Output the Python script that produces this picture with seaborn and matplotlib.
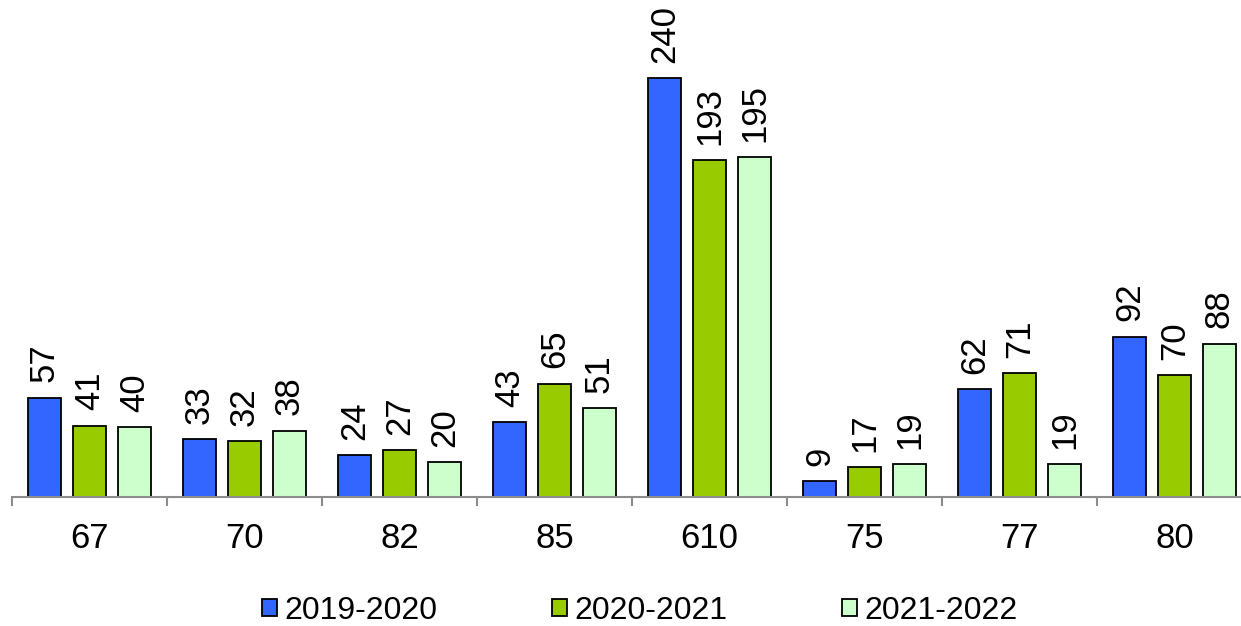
import pandas as pd
import numpy as np
import matplotlib.pyplot as plt
import seaborn as sns

# chart data
categories = ["67", "70", "82", "85", "610", "75", "77", "80"]
seasons = ["2019-2020", "2020-2021", "2021-2022"]
v_2019 = [57, 33, 24, 43, 240, 9, 62, 92]
v_2020 = [41, 32, 27, 65, 193, 17, 71, 70]
v_2021 = [40, 38, 20, 51, 195, 19, 19, 88]
colors = ["#3366FF", "#99CC00", "#CCFFCC"]

df = pd.DataFrame({
    "cat": categories * 3,
    "season": [seasons[0]] * 8 + [seasons[1]] * 8 + [seasons[2]] * 8,
    "value": v_2019 + v_2020 + v_2021,
})

sns.set_style("white")
plt.rcParams["font.family"] = ["Liberation Sans", "DejaVu Sans"]
plt.rcParams["text.color"] = "black"
plt.rcParams["xtick.color"] = "black"

fig = plt.figure(figsize=(12.41, 6.26), dpi=100)
ax = fig.add_axes([12 / 1241, 1 - 497 / 626, 1240 / 1241, 497 / 626])

sns.barplot(data=df, x="cat", y="value", hue="season", order=categories,
            hue_order=seasons, palette=colors, width=0.87, gap=0.27,
            edgecolor="black", linewidth=1.3, saturation=1, ax=ax)

for cont in ax.containers:
    ax.bar_label(cont, rotation=90, padding=11, fontsize=25, color="black")

ax.set_xlim(-0.5, 7.5)
ax.set_ylim(0, 285)
ax.set_xlabel("")
ax.set_ylabel("")
ax.set_yticks([])
for s in ["top", "left", "right"]:
    ax.spines[s].set_visible(False)
ax.spines["bottom"].set_color("#8c8c8c")
ax.spines["bottom"].set_linewidth(1.5)

ax.set_xticks(range(len(categories)))
ax.set_xticklabels(categories, fontsize=25, color="black")
ax.set_xticks(np.arange(-0.5, 8, 1), minor=True)
ax.tick_params(axis="x", which="major", length=0, pad=18, bottom=True)
ax.tick_params(axis="x", which="minor", length=6.5, width=1.5,
               color="#8c8c8c", bottom=True)

leg = ax.legend(loc="center", bbox_to_anchor=(640 / 1241, 1 - 611 / 626),
                bbox_transform=fig.transFigure, ncol=3, frameon=False,
                fontsize=23, handlelength=0.47, handleheight=0.47,
                handletextpad=0.22, columnspacing=3.6, borderpad=0)
for t in leg.get_texts():
    t.set_color("black")

fig.savefig("out.png", dpi=100)
